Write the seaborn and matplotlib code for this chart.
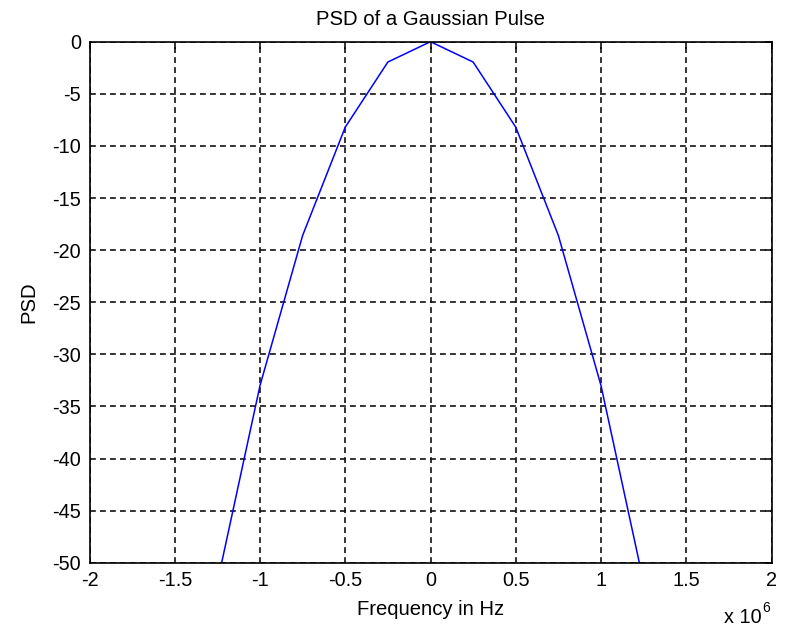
import matplotlib
matplotlib.use("Agg")
import matplotlib.pyplot as plt
import seaborn as sns
import pandas as pd
from matplotlib.ticker import FuncFormatter, MultipleLocator

# Power spectral density of a Gaussian pulse (dB), sampled every 0.25 MHz
freq_hz = [-1.25e6, -1.0e6, -0.75e6, -0.5e6, -0.25e6, 0.0,
           0.25e6, 0.5e6, 0.75e6, 1.0e6, 1.25e6]
psd_db = [-51.9, -33.0, -18.6, -8.2, -1.95, 0.0,
          -1.95, -8.2, -18.6, -33.0, -51.9]

title_text = "PSD of a Gaussian Pulse"
xlabel_text = "Frequency in Hz"
ylabel_text = "PSD"

df = pd.DataFrame({"freq": freq_hz, "psd": psd_db})

sns.set_theme(style="white")
plt.rcParams["font.family"] = ["Liberation Sans", "DejaVu Sans"]

W, H = 790, 627
fig = plt.figure(figsize=(W / 100, H / 100), dpi=100)
fig.patch.set_facecolor("white")
ax = fig.add_axes([89.5 / W, 1 - 562.7 / H, 682 / W, 521 / H])
ax.set_facecolor("white")

sns.lineplot(data=df, x="freq", y="psd", ax=ax, color="#0000ff",
             linewidth=1.1, sort=False, legend=False)

ax.set_xlim(-2e6, 2e6)
ax.set_ylim(-50, 0)
ax.xaxis.set_major_locator(MultipleLocator(0.5e6))
ax.yaxis.set_major_locator(MultipleLocator(5))
ax.xaxis.set_major_formatter(FuncFormatter(lambda v, p: f"{v / 1e6:g}"))
ax.yaxis.set_major_formatter(FuncFormatter(lambda v, p: f"{v:g}"))

ax.grid(True, color="#111111", linestyle=(0, (3.5, 2.5)), linewidth=1.2)
ax.set_axisbelow(True)
for s in ax.spines.values():
    s.set_visible(True)
    s.set_color("black")
    s.set_linewidth(1.2)

ax.tick_params(axis="both", which="major", direction="in", length=5,
               width=1.1, color="black", labelsize=14.3, labelcolor="black",
               top=True, right=True, pad=6)

ax.set_title(title_text, fontsize=14.6, color="black", pad=12)
ax.set_xlabel(xlabel_text, fontsize=14.6, color="black", labelpad=7)
ax.set_ylabel(ylabel_text, fontsize=14.6, color="black", labelpad=10)

# multiplier for the frequency axis
fig.text(761.7 / W, 1 - 623 / H, "x 10", fontsize=14.3, ha="right",
         va="baseline", color="black")
fig.text(762 / W, 1 - 612 / H, "6", fontsize=10, ha="left",
         va="baseline", color="black")

fig.savefig("out.png", dpi=100, facecolor="white")
